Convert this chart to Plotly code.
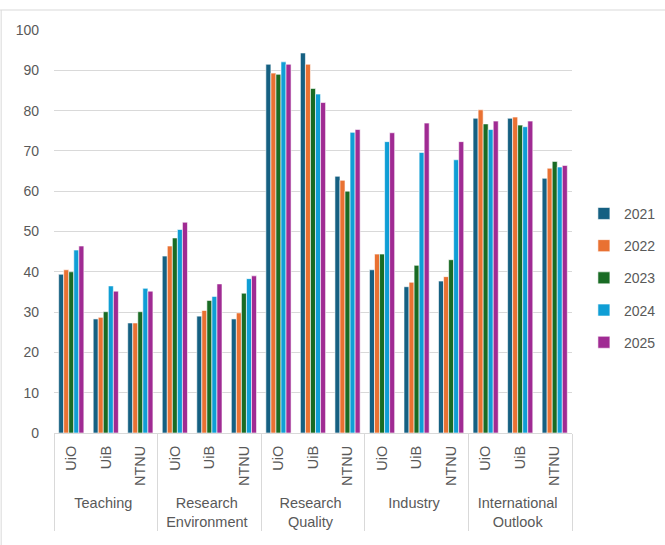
import plotly.graph_objects as go

groups = ["Teaching", "Research<br>Environment", "Research<br>Quality", "Industry", "International<br>Outlook"]
unis = ["UiO", "UiB", "NTNU"]
years = ["2021", "2022", "2023", "2024", "2025"]
colors = ["#156082", "#E97132", "#196B24", "#0F9ED5", "#A02B93"]

# values per year, ordered by group then university
v2021 = [39.4, 28.3, 27.3, 43.9, 29.0, 28.3, 91.5, 94.3, 63.7, 40.5, 36.3, 37.7, 78.1, 78.1, 63.2]
v2022 = [40.5, 28.7, 27.3, 46.4, 30.4, 29.8, 89.3, 91.5, 62.7, 44.4, 37.4, 38.8, 80.2, 78.4, 65.7]
v2023 = [40.0, 30.1, 30.1, 48.4, 32.9, 34.7, 89.0, 85.5, 60.0, 44.4, 41.6, 43.0, 76.7, 76.4, 67.4]
v2024 = [45.4, 36.5, 35.9, 50.5, 33.9, 38.3, 92.1, 84.1, 74.6, 72.3, 69.6, 67.8, 75.3, 76.0, 66.0]
v2025 = [46.4, 35.2, 35.2, 52.3, 37.0, 39.0, 91.5, 82.0, 75.3, 74.5, 76.9, 72.3, 77.4, 77.4, 66.4]
series = [v2021, v2022, v2023, v2024, v2025]

xg = [g for g in groups for _ in unis]
xu = [u for _ in groups for u in unis]

fig = go.Figure()
for yr, col, vals in zip(years, colors, series):
    fig.add_trace(go.Bar(
        x=[xg, xu], y=vals, name=yr, legendgroup=yr,
        marker=dict(color=col, line=dict(color="white", width=0.6)),
    ))

font = "Liberation Sans, Arial, sans-serif"
fig.update_layout(
    width=665, height=545,
    margin=dict(l=54, r=93, t=30, b=112, autoexpand=False),
    paper_bgcolor="white", plot_bgcolor="white",
    barmode="group", bargap=0.27, bargroupgap=0.0,
    font=dict(family=font, size=14, color="#595959"),
    showlegend=True,
    legend=dict(x=1.023, xanchor="left", y=0.385, yanchor="middle",
                font=dict(size=14, color="#595959"), tracegroupgap=11,
                itemwidth=30, bgcolor="rgba(0,0,0,0)"),
    xaxis=dict(type="multicategory", tickangle=-90, showline=True,
               linecolor="#D9D9D9", linewidth=1, showdividers=True,
               dividercolor="#D9D9D9", dividerwidth=1, ticks="",
               automargin=False, ticklabelstandoff=6,
               tickfont=dict(size=14.5, color="#595959")),
    yaxis=dict(range=[0, 100], dtick=10, showgrid=True, gridcolor="#D9D9D9",
               gridwidth=1, zeroline=False, ticks="", ticklabelstandoff=14,
               automargin=False,
               tickfont=dict(size=14, color="#595959")),
)

# outer chart frame (top and left edges)
fig.add_shape(type="line", xref="paper", yref="paper", x0=-0.104, x1=1.2,
              y0=1.0496, y1=1.0496, line=dict(color="#D9D9D9", width=1))
fig.add_shape(type="line", xref="paper", yref="paper", x0=-0.102, x1=-0.102,
              y0=1.0496, y1=-0.3, line=dict(color="#D9D9D9", width=1))

fig.write_html("out.html")
